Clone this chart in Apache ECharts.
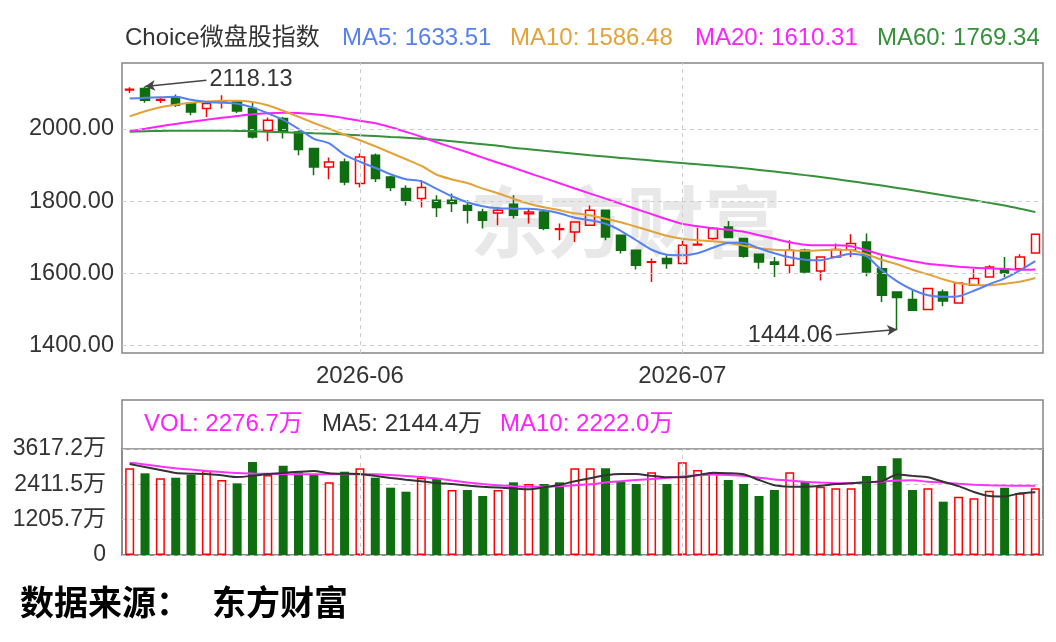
<!DOCTYPE html>
<html>
<head>
<meta charset="utf-8">
<title>Choice微盘股指数</title>
<script src="https://cdn.jsdelivr.net/npm/echarts@6/dist/echarts.min.js"></script>
<style>
  html, body { margin: 0; padding: 0; background: #fff; }
  #chart { width: 1056px; height: 642px; }
</style>
</head>
<body>
<div id="chart"></div>
<script>
// ------------------------------
// Data
// ------------------------------

var dates = [
    '2026-05-11', '2026-05-12', '2026-05-13', '2026-05-14', '2026-05-15',
    '2026-05-18', '2026-05-19', '2026-05-20', '2026-05-21', '2026-05-22',
    '2026-05-25', '2026-05-26', '2026-05-27', '2026-05-28', '2026-05-29',
    '2026-06-01', '2026-06-02', '2026-06-03', '2026-06-04', '2026-06-05',
    '2026-06-08', '2026-06-09', '2026-06-10', '2026-06-11', '2026-06-12',
    '2026-06-15', '2026-06-16', '2026-06-17', '2026-06-18', '2026-06-22',
    '2026-06-23', '2026-06-24', '2026-06-25', '2026-06-26', '2026-06-29',
    '2026-06-30', '2026-07-01', '2026-07-02', '2026-07-03', '2026-07-06',
    '2026-07-07', '2026-07-08', '2026-07-09', '2026-07-10', '2026-07-13',
    '2026-07-14', '2026-07-15', '2026-07-16', '2026-07-17', '2026-07-20',
    '2026-07-21', '2026-07-22', '2026-07-23', '2026-07-24', '2026-07-27',
    '2026-07-28', '2026-07-29', '2026-07-30', '2026-07-31', '2026-08-03'
];

// [open, close, low, high]
var ohlc = [
    [2108, 2110, 2100, 2116], [2112, 2079.6, 2073, 2118.13], [2080, 2082, 2072, 2089],
    [2088.8, 2065.7, 2061, 2095.4], [2070.5, 2047, 2038, 2072.7], [2056.6, 2070.5, 2033, 2072],
    [2076, 2078, 2056.6, 2093.5], [2077.7, 2050, 2044, 2080], [2056.6, 1977.8, 1973.4, 2077.7],
    [1996.4, 2024, 1966, 2031.6], [2029, 1991.7, 1973.4, 2033], [1991.7, 1942.9, 1927, 1996],
    [1945.6, 1894.6, 1871.6, 1946], [1894.6, 1908.5, 1860.5, 1920.7], [1908.5, 1853, 1844, 1918],
    [1848.5, 1922, 1837.4, 1931.8], [1927, 1862.4, 1853, 1931.8], [1867, 1837.4, 1828, 1870],
    [1834.7, 1802, 1788, 1844], [1807, 1837.4, 1782, 1857.7], [1802, 1782, 1756, 1816],
    [1802, 1793, 1770, 1821], [1788, 1774.5, 1737.6, 1802], [1770, 1747, 1724, 1779],
    [1767, 1774.5, 1733, 1783.6], [1791, 1760.6, 1751.5, 1816], [1765, 1770, 1737.6, 1779],
    [1770, 1724.5, 1719, 1772.5], [1721, 1723.5, 1691, 1737.6], [1714.3, 1742, 1686.5, 1742],
    [1733, 1774.5, 1731, 1788], [1774.5, 1700.4, 1691, 1776], [1705, 1663.6, 1654.5, 1707],
    [1663.6, 1622, 1610, 1665], [1630, 1632, 1575.6, 1640.5], [1640.5, 1626.6, 1612.6, 1649.6],
    [1626.6, 1677.4, 1626, 1696], [1678.5, 1680.5, 1678, 1726], [1696, 1723.7, 1693, 1728],
    [1728, 1699, 1697, 1745], [1696, 1647, 1643, 1698], [1652.4, 1631, 1612.6, 1654],
    [1631, 1624.6, 1589.5, 1645], [1622, 1663.6, 1600.5, 1691], [1663.6, 1603.3, 1600, 1668],
    [1606, 1645, 1580, 1647], [1645, 1665.5, 1645, 1682], [1663.6, 1682, 1645, 1708],
    [1686.5, 1603.3, 1591.4, 1710], [1612.6, 1538.6, 1520, 1650], [1548, 1532.4, 1444.06, 1550],
    [1526.8, 1497, 1495, 1552.6], [1499, 1557.3, 1497, 1558], [1548, 1523, 1508, 1554.5],
    [1517.3, 1572.8, 1516, 1575], [1566.4, 1585, 1566, 1612.6], [1589.5, 1617.2, 1589, 1622],
    [1612.6, 1600.5, 1589.5, 1645], [1612.6, 1645, 1612, 1652.4], [1656, 1708, 1655, 1710]
];

var ma5 = [
    2084.3, 2086.5, 2088, 2089.3, 2081, 2075, 2073, 2070, 2060, 2043.5,
    2025.5, 2000.5, 1972.8, 1960.3, 1928.4, 1909, 1892.4, 1874.3, 1860.5, 1855,
    1834, 1813.3, 1796.7, 1785.6, 1780, 1779, 1778.6, 1774.5, 1766.2, 1753.7,
    1746.7, 1737, 1717.6, 1691.3, 1665, 1651, 1649.6, 1655.2, 1670.4, 1684.3,
    1684.3, 1669, 1655.2, 1644, 1637.2, 1635.8, 1645, 1654, 1647, 1608,
    1577.5, 1554, 1538.7, 1534.5, 1536, 1551.2, 1569.2, 1585.8, 1608, 1633.51
];
var ma10 = [
    2035, 2049, 2060, 2067, 2072.7, 2076, 2078, 2078, 2075, 2065.7,
    2050.5, 2034, 2016.6, 2000.5, 1984, 1968.7, 1952, 1934, 1916, 1898,
    1873, 1860, 1850, 1834.5, 1821.6, 1806.4, 1792.5, 1782.8, 1774.5, 1766,
    1760.6, 1751, 1741.2, 1728.7, 1716.2, 1703.7, 1695.4, 1691.3, 1688.5, 1684.3,
    1676, 1669, 1665, 1663.6, 1662.2, 1663.6, 1665, 1663.6, 1652.4, 1637.2,
    1624.7, 1609.4, 1596.9, 1583, 1572, 1567.8, 1566.4, 1570.6, 1576, 1586.48
];
var ma20 = [
    1993.6, 2000.5, 2007.5, 2014, 2020, 2025.5, 2031, 2036, 2040.8, 2043.5,
    2045, 2044, 2040.8, 2036.6, 2030, 2023, 2015.8, 2004.7, 1992, 1978.4,
    1963, 1949, 1935.4, 1920.4, 1906.5, 1892.4, 1877.7, 1863.8, 1849.6, 1835,
    1820.8, 1806.7, 1792.2, 1778, 1763.7, 1749.5, 1737, 1730, 1724.5, 1720.4,
    1714.8, 1705, 1695.4, 1685.7, 1678.8, 1677.4, 1677.4, 1674.6, 1663.6, 1651,
    1641.3, 1633, 1626, 1621.9, 1617.8, 1615, 1613.6, 1612.2, 1609.4, 1610.31
];
var ma60 = [
    1992, 1993.6, 1994.5, 1995, 1995, 1995, 1995, 1994.5, 1993.6, 1992,
    1990.8, 1989.5, 1988, 1986.7, 1984.7, 1982.5, 1980.3, 1977.8, 1975.6, 1972.8,
    1969.8, 1966, 1961.7, 1957.6, 1953.4, 1947.8, 1943.7, 1939.5, 1935.4, 1931.2,
    1927, 1923.4, 1919.8, 1916.2, 1912.6, 1909, 1905.4, 1902, 1898.5, 1894.9,
    1891, 1886.5, 1882, 1877, 1872, 1866.5, 1861, 1855, 1849, 1843,
    1836.5, 1830, 1823, 1816, 1809, 1802, 1795, 1788, 1779, 1769.34
];

// volume, unit: 万
var volumes = [
    2958, 2787, 2617, 2638, 2730, 2877, 2559, 2446, 3173, 2730,
    3047, 2821, 2753, 2480, 2843, 2958, 2638, 2297, 2160, 2638,
    2617, 2218, 2218, 2013, 2218, 2480, 2423, 2423, 2480, 2958,
    2958, 2958, 2501, 2423, 2821, 2423, 3162, 2900, 2821, 2559,
    2423, 2013, 2218, 2821, 2501, 2331, 2275, 2275, 2695, 3037,
    3298, 2218, 2275, 1820, 1990, 1933, 2195, 2297, 2104, 2276.7
];
var volMa5 = [
    3105, 3000, 2900, 2800, 2775, 2765, 2720, 2660, 2700, 2760,
    2800, 2840, 2870, 2790, 2770, 2764, 2700, 2630, 2570, 2520,
    2460, 2420, 2370, 2330, 2300, 2270, 2245, 2310, 2388, 2520,
    2620, 2720, 2764, 2764, 2700, 2651, 2651, 2730, 2808, 2790,
    2755, 2560, 2380, 2330, 2330, 2360, 2420, 2450, 2480, 2520,
    2750, 2700, 2655, 2500, 2350, 2150, 2010, 1995, 2105, 2144.4
];
var volMa10 = [
    3150, 3090, 3020, 2960, 2915, 2870, 2830, 2795, 2780, 2770,
    2760, 2755, 2753, 2753, 2753, 2753, 2753, 2730, 2700, 2665,
    2610, 2540, 2475, 2420, 2380, 2350, 2330, 2335, 2350, 2380,
    2412, 2470, 2520, 2560, 2595, 2635, 2680, 2720, 2750, 2730,
    2700, 2640, 2580, 2540, 2500, 2470, 2450, 2450, 2480, 2510,
    2540, 2555, 2500, 2470, 2430, 2400, 2380, 2370, 2365, 2360
];

var monthTicks = ['2026-06-01', '2026-07-01'];
var priceTicks = [1400, 1600, 1800, 2000];
var priceMin = 1378.6;
var priceMax = 2183;
var volMax = 3617.2;

// ------------------------------
// Chart
// ------------------------------

var FONT = '"Liberation Sans", Arial, "Noto Sans CJK SC", sans-serif';
var CJK = '"Noto Sans CJK SC", sans-serif';
var RED = '#ff0000';
var GREEN = '#0f6e0f';
var C_MA5 = '#5581f2';
var C_MA10 = '#e3a23a';
var C_MA20 = '#ff22ff';
var C_MA60 = '#35913a';

var chart = echarts.init(document.getElementById('chart'));

// highest high / lowest low for the arrows
var hiIdx = 0, loIdx = 0;
ohlc.forEach(function (d, i) {
    if (d[3] > ohlc[hiIdx][3]) hiIdx = i;
    if (d[2] < ohlc[loIdx][2]) loIdx = i;
});
var hiVal = ohlc[hiIdx][3];
var loVal = ohlc[loIdx][2];

// volume colour follows close vs previous close
var volData = volumes.map(function (v, i) {
    var ref = i === 0 ? ohlc[i][0] : ohlc[i - 1][1];
    var up = ohlc[i][1] >= ref;
    return {
        value: v,
        itemStyle: up
            ? { color: 'transparent', borderColor: RED, borderWidth: 1.5 }
            : { color: GREEN, borderColor: GREEN, borderWidth: 0 }
    };
});

var gridLine = { color: '#cccccc', type: [4, 4], width: 1 };
var labelText = { color: '#333', fontSize: 23.5, fontFamily: FONT };

var priceMarks = priceTicks.map(function (p) {
    return {
        yAxis: p,
        lineStyle: gridLine,
        label: Object.assign({ show: true, position: 'start', distance: 8, formatter: p.toFixed(2) }, labelText)
    };
});
var monthMarks = monthTicks.map(function (d) {
    return { xAxis: d, lineStyle: gridLine, label: { show: false } };
});
var arrowStyle = { color: '#444', type: 'solid', width: 1.5 };
var arrowMarks = [
    [
        { coord: [dates[hiIdx + 4], hiVal + 17], symbol: 'none', lineStyle: arrowStyle,
          label: Object.assign({ show: true, position: 'start', distance: 3, formatter: hiVal.toFixed(2) }, labelText) },
        { coord: [dates[hiIdx], hiVal], symbol: 'arrow', symbolSize: [8, 10] }
    ],
    [
        { coord: [dates[loIdx - 4], loVal - 15], symbol: 'none', lineStyle: arrowStyle,
          label: Object.assign({ show: true, position: 'start', distance: 3, formatter: loVal.toFixed(2) }, labelText) },
        { coord: [dates[loIdx], loVal], symbol: 'arrow', symbolSize: [8, 10] }
    ]
];

function maLine(name, data, color, xi, yi) {
    return {
        name: name,
        type: 'line',
        data: data,
        xAxisIndex: xi,
        yAxisIndex: yi,
        symbol: 'none',
        smooth: 0.2,
        silent: true,
        lineStyle: { color: color, width: 2 },
        z: 3
    };
}

function txt(x, y, text, color, font) {
    return {
        type: 'text', x: x, y: y, silent: true,
        style: { text: text, fill: color, font: font || ('24px ' + FONT), verticalAlign: 'middle', align: 'left' }
    };
}

var option = {
    animation: false,
    backgroundColor: '#fff',
    grid: [
        { left: 122, right: 13, top: 63, height: 290, show: true, borderColor: '#858585', borderWidth: 1.5 },
        { left: 122, right: 13, top: 449, height: 106, show: true, borderColor: '#858585', borderWidth: 1.5 }
    ],
    xAxis: [
        {
            type: 'category', gridIndex: 0, data: dates, boundaryGap: true,
            axisLine: { show: false }, axisTick: { show: false },
            splitLine: { show: false },
            axisLabel: {
                interval: function (i, v) { return monthTicks.indexOf(v) >= 0; },
                formatter: function (v) { return v.slice(0, 7); },
                color: '#333', fontSize: 24, fontFamily: FONT, margin: 11
            }
        },
        {
            type: 'category', gridIndex: 1, data: dates, boundaryGap: true,
            axisLine: { show: false }, axisTick: { show: false },
            axisLabel: { show: false }, splitLine: { show: false }
        }
    ],
    yAxis: [
        {
            type: 'value', gridIndex: 0, min: priceMin, max: priceMax, scale: true,
            axisLine: { show: false }, axisTick: { show: false },
            axisLabel: { show: false }, splitLine: { show: false }
        },
        {
            type: 'value', gridIndex: 1, min: 0, max: volMax, interval: volMax / 3,
            axisLine: { show: false }, axisTick: { show: false },
            axisLabel: {
                color: '#333', fontSize: 23, fontFamily: FONT, margin: 16,
                formatter: function (v) { return v === 0 ? '0' : v.toFixed(1) + '万'; }
            },
            splitLine: { show: true, lineStyle: gridLine }
        }
    ],
    graphic: [
        // watermark
        txt(470, 222, '东方财富', 'rgba(0,0,0,0.09)', 'bold 78px ' + CJK),
        // volume panel frame
        {
            type: 'rect', silent: true,
            shape: { x: 122, y: 400, width: 921, height: 155 },
            style: { fill: 'none', stroke: '#858585', lineWidth: 1.5 }
        },
        // main legend row
        txt(125, 38, 'Choice微盘股指数', '#333'),
        txt(342, 38, 'MA5: ' + ma5[ma5.length - 1].toFixed(2), C_MA5),
        txt(510, 38, 'MA10: ' + ma10[ma10.length - 1].toFixed(2), C_MA10),
        txt(695, 38, 'MA20: ' + ma20[ma20.length - 1].toFixed(2), C_MA20),
        txt(877, 38, 'MA60: ' + ma60[ma60.length - 1].toFixed(2), C_MA60),
        // volume legend row
        txt(144, 424, 'VOL: ' + volumes[volumes.length - 1].toFixed(1) + '万', C_MA20),
        txt(322, 424, 'MA5: ' + volMa5[volMa5.length - 1].toFixed(1) + '万', '#333'),
        txt(500, 424, 'MA10: 2222.0万', C_MA20),
        // source
        txt(20, 602, '数据来源：', '#000', 'bold 34px ' + CJK),
        txt(212, 602, '东方财富', '#000', 'bold 34px ' + CJK)
    ],
    series: [
        {
            name: 'K',
            type: 'candlestick',
            xAxisIndex: 0,
            yAxisIndex: 0,
            data: ohlc,
            barWidth: 9,
            silent: true,
            itemStyle: {
                color: 'transparent',
                color0: GREEN,
                borderColor: RED,
                borderColor0: GREEN,
                borderWidth: 1.5
            },
            markLine: {
                silent: true,
                animation: false,
                symbol: ['none', 'none'],
                data: priceMarks.concat(monthMarks).concat(arrowMarks)
            },
            z: 2
        },
        maLine('MA60', ma60, C_MA60, 0, 0),
        maLine('MA20', ma20, C_MA20, 0, 0),
        maLine('MA10', ma10, C_MA10, 0, 0),
        maLine('MA5', ma5, C_MA5, 0, 0),
        {
            name: 'VOL',
            type: 'bar',
            xAxisIndex: 1,
            yAxisIndex: 1,
            data: volData,
            barWidth: 9,
            silent: true,
            markLine: {
                silent: true,
                animation: false,
                symbol: ['none', 'none'],
                data: monthTicks.map(function (d) {
                    return { xAxis: d, lineStyle: gridLine, label: { show: false } };
                })
            }
        },
        maLine('VMA10', volMa10, '#ff33ff', 1, 1),
        maLine('VMA5', volMa5, '#333333', 1, 1)
    ]
};

chart.setOption(option);
</script>
</body>
</html>
